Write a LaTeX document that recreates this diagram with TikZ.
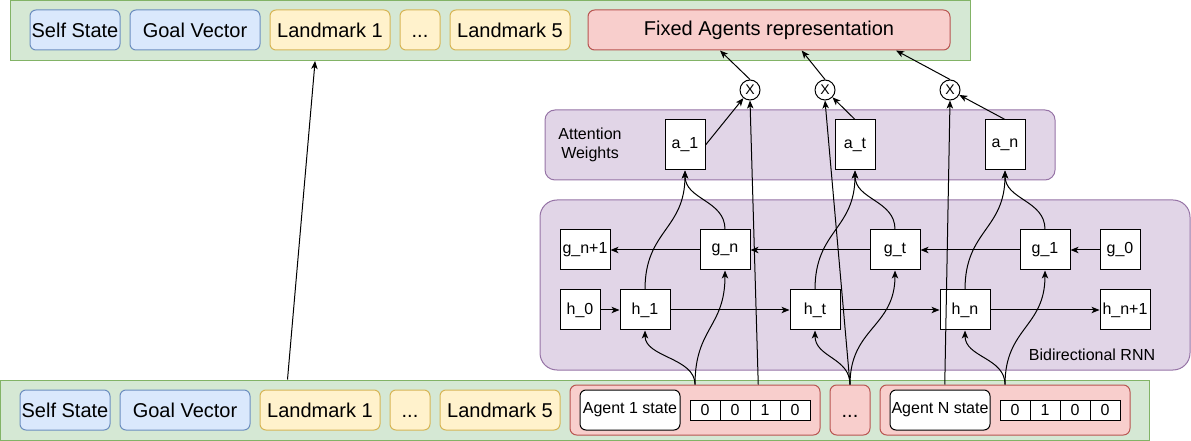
\documentclass[tikz,border=0pt]{standalone}
\usepackage{fontspec}
\setmainfont{Liberation Sans}
\usetikzlibrary{arrows.meta,calc}
\definecolor{barfill}{HTML}{D5E8D4}
\definecolor{barline}{HTML}{82B366}
\definecolor{bluefill}{HTML}{DAE8FC}
\definecolor{blueline}{HTML}{6C8EBF}
\definecolor{yelfill}{HTML}{FFF2CC}
\definecolor{yelline}{HTML}{D6B656}
\definecolor{redfill}{HTML}{F8CECC}
\definecolor{redline}{HTML}{B85450}
\definecolor{purfill}{HTML}{E1D5E7}
\definecolor{purline}{HTML}{9673A6}
\tikzset{
  sz/.style 2 args={minimum width=#1*0.75pt,minimum height=#2*0.75pt},
  big/.style={font=\fontsize{15}{18}\selectfont},
  small/.style={font=\fontsize{12}{14.6}\selectfont},
  arr/.style={-{Stealth[length=6pt,width=4.8pt,inset=1.6pt]}},
  % curved link: vertical at both ends, bent half way
  vc/.style={to path={.. controls ($(\tikztostart)!0.5!(\tikztostart|-\tikztotarget)$) and ($(\tikztotarget)!0.5!(\tikztotarget|-\tikztostart)$) .. (\tikztotarget)}}
}
\begin{document}
\begin{tikzpicture}[x=0.75pt,y=0.75pt,yscale=-1,xscale=1,line width=0.75pt,
  bar/.style={draw=barline,fill=barfill,inner sep=0},
  bluebox/.style={draw=blueline,fill=bluefill,rounded corners=4.5pt,inner sep=0,big},
  yelbox/.style={draw=yelline,fill=yelfill,rounded corners=4.5pt,inner sep=0,big},
  redbox/.style={draw=redline,fill=redfill,rounded corners=5pt,inner sep=0},
  dotsbox/.style={text height=10.8pt,text depth=0pt},
  layer/.style={draw=purline,fill=purfill,inner sep=0},
  cell/.style={draw,fill=white,inner sep=0,small,sz={30}{20}},
  unit/.style={draw,fill=white,inner sep=0,small},
  mult/.style={circle,draw,fill=white,inner sep=0,minimum size=15pt,font=\fontsize{10.5}{12}\selectfont}]
\useasboundingbox (0,0) rectangle (1191,441);

%Containers
\node[bar,sz={960}{60}] (topbar) at (490,30.5) {};
\node[bar,sz={1149}{60}] (botbar) at (575,410) {};
\node[layer,rounded corners=7.5pt,sz={510}{70}] (attn) at (800,145) {};
\node[layer,rounded corners=12.75pt,sz={650}{170}] (rnn) at (865,285) {};
\node[small,align=center] (attnlbl) at (590,145) {Attention\\Weights};
\node[small] (rnnlbl) at (1092,355) {Bidirectional RNN};

%Top row
\node[bluebox,sz={90}{40}] (tself) at (75,30) {Self State};
\node[bluebox,sz={130}{40}] (tgoal) at (195,30) {Goal Vector};
\node[yelbox,sz={120}{40}] (tlmA) at (330,30) {Landmark 1};
\node[yelbox,dotsbox,sz={40}{40}] (tdots) at (420,30) {...};
\node[yelbox,sz={120}{40}] (tlmE) at (510,30) {Landmark 5};
\node[redbox,big,sz={362}{40}] (fixed) at (769,30) {Fixed Agents representation};

%Bottom row
\node[bluebox,sz={90}{40}] (bself) at (65,410) {Self State};
\node[bluebox,sz={130}{40}] (bgoal) at (185,410) {Goal Vector};
\node[yelbox,sz={120}{40}] (blmA) at (320,410) {Landmark 1};
\node[yelbox,dotsbox,sz={40}{40}] (bdots) at (410,410) {...};
\node[yelbox,sz={120}{40}] (blmE) at (500,410) {Landmark 5};
\node[redbox,sz={250}{50}] (agA) at (695,410) {};
\node[redbox,big,dotsbox,sz={40}{50}] (agdots) at (850,410) {...};
\node[redbox,sz={250}{50}] (agN) at (1005,410) {};
\node[unit,rounded corners=4.5pt,sz={100}{40}] (stA) at (630,410) {Agent 1 state};
\node[unit,rounded corners=4.5pt,sz={100}{40}] (stN) at (940,410) {Agent N state};
\foreach \v [count=\i] in {0,0,1,0}
  \node[cell] (cA\i) at (675+30*\i,410) {\v};
\foreach \v [count=\i] in {0,1,0,0}
  \node[cell] (cN\i) at (985+30*\i,410) {\v};

%RNN units
\node[unit,sz={40}{40}] (h0) at (580,310) {h\_0};
\node[unit,sz={50}{40}] (h1) at (645,310) {h\_1};
\node[unit,sz={50}{40}] (ht) at (815,310) {h\_t};
\node[unit,sz={50}{40}] (hn) at (965,310) {h\_n};
\node[unit,sz={50}{40}] (hnn) at (1125,310) {h\_n+1};
\node[unit,sz={50}{40}] (gnn) at (585,250) {g\_n+1};
\node[unit,sz={50}{40}] (gn) at (725,250) {g\_n};
\node[unit,sz={50}{40}] (gt) at (895,250) {g\_t};
\node[unit,sz={50}{40}] (g1) at (1045,250) {g\_1};
\node[unit,sz={40}{40}] (g0) at (1120,250) {g\_0};

%Attention weights
\node[unit,sz={40}{50}] (a1) at (685,145) {a\_1};
\node[unit,sz={40}{50}] (at) at (855,145) {a\_t};
\node[unit,sz={40}{50}] (an) at (1005,145) {a\_n};
\node[mult] (x1) at (750,90) {X};
\node[mult] (x2) at (825,90) {X};
\node[mult] (x3) at (950,90) {X};

%Recurrences
\draw[arr] (h0) -- (h1);
\draw[arr] (h1) -- (ht);
\draw[arr] (ht) -- (hn);
\draw[arr] (hn) -- (hnn);
\draw[arr] (g0) -- (g1);
\draw[arr] (g1) -- (gt);
\draw[arr] (gt) -- (gn);
\draw[arr] (gn) -- (gnn);

%Inputs to the RNN
\draw[arr] (agA.north) to[vc] (h1.south);
\draw[arr] (agA.north) to[vc] (gn.south);
\draw[arr] (agdots.north) to[vc] (ht.south);
\draw[arr] (agdots.north) to[vc] (gt.south);
\draw[arr] (agN.north) to[vc] (hn.south);
\draw[arr] (agN.north) to[vc] (g1.south);

%RNN to attention
\draw[arr] (h1.north) to[vc] (a1.south);
\draw[arr] (gn.north) to[vc] (a1.south);
\draw[arr] (ht.north) to[vc] (at.south);
\draw[arr] (gt.north) to[vc] (at.south);
\draw[arr] (hn.north) to[vc] (an.south);
\draw[arr] (g1.north) to[vc] (an.south);

%Weighting
\draw[arr] ($(agA.north west)!0.752!(agA.north east)$) -- (x1.south);
\draw[arr] (agdots.north) -- (x2.south);
\draw[arr] ($(agN.north west)!0.26!(agN.north east)$) -- (x3.south);
\draw[arr] (a1.east) -- (x1);
\draw[arr] (at.north) -- (x2);
\draw[arr] (an.north) -- (x3);
\draw[arr] (x1.north) -- ($(fixed.south west)!0.365!(fixed.south east)$);
\draw[arr] (x2.north) -- ($(fixed.south west)!0.59!(fixed.south east)$);
\draw[arr] (x3.north) -- ($(fixed.south west)!0.85!(fixed.south east)$);
\draw[arr] ($(botbar.north west)!0.25!(botbar.north east)$) -- ($(topbar.south west)!0.318!(topbar.south east)$);
\end{tikzpicture}
\end{document}
